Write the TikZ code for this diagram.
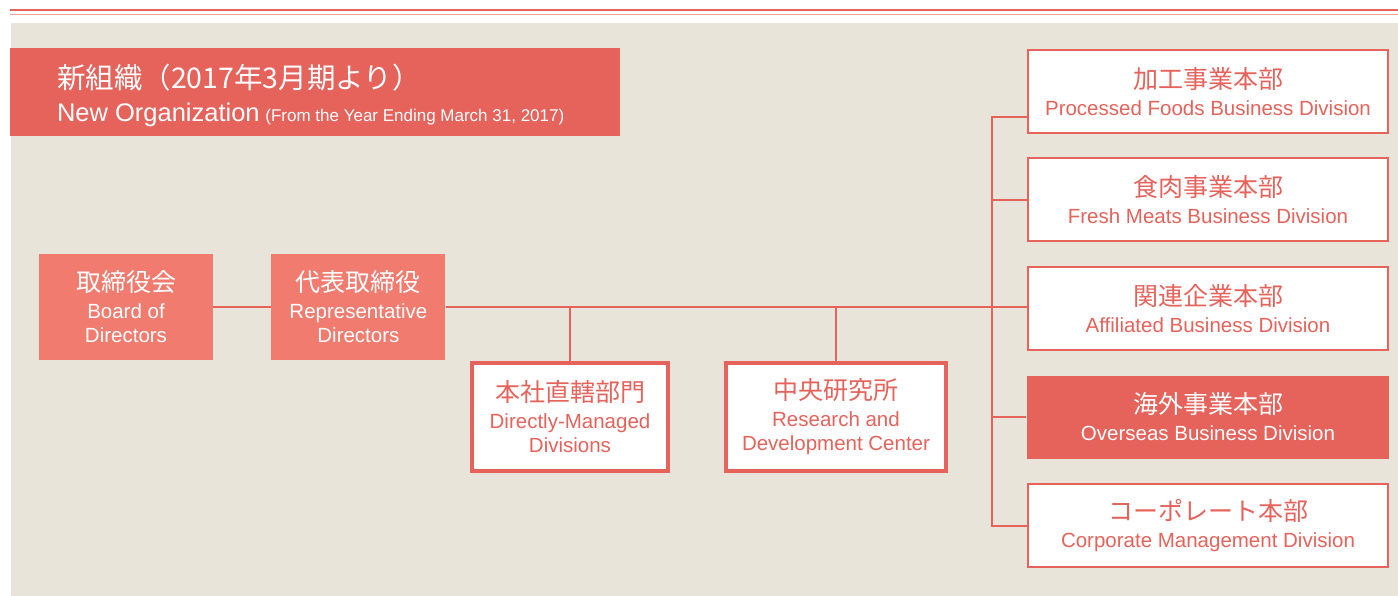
\documentclass[tikz,border=0pt]{standalone}
\usepackage{fontspec}
\setmainfont{Liberation Sans}
\newfontfamily\jp{Noto Sans CJK JP}
\usetikzlibrary{positioning}
\definecolor{rosso}{RGB}{230,99,92}
\definecolor{salmone}{RGB}{241,123,110}
\definecolor{sabbia}{RGB}{232,228,218}
\definecolor{rosa}{RGB}{240,160,155}
\newcommand{\jpl}[1]{{\jp\fontsize{25}{24}\selectfont #1}}

\begin{document}
\begin{tikzpicture}[
    x=1pt, y=-1pt,
    font=\fontsize{20.5}{24}\selectfont,
    node distance=23.5pt,
    txt/.style={
        align=center,
        inner sep=0pt
    },
    titolo/.style={
        fill=rosso,
        minimum width=610pt,
        minimum height=88pt
    },
    vertice/.style={txt, fill=salmone, text=white, minimum width=174pt, minimum height=106pt},
    reparto/.style={txt, fill=white, draw=rosso, line width=4pt, text=rosso, minimum height=108pt},
    divisione/.style={txt, fill=white, draw=rosso, line width=2pt, text=rosso, minimum width=360pt, minimum height=83pt},
    divisione_hl/.style={divisione, fill=rosso, text=white, draw=none, minimum width=362pt},
    linea/.style={draw=rosso, line width=2pt}
]
\useasboundingbox (0,0) rectangle (1398,596);

% Sfondo e filetti
\fill[sabbia] (11,23) rectangle (1398,596);
\draw[rosso, line width=2pt] (10,10.5) -- (1398,10.5);
\draw[rosa, line width=1.5pt] (10,14.5) -- (1398,14.5);

% Titolo
\node[titolo] (tit) at (315,92) {};
\node[txt, align=left, text=white, anchor=west] (tit_txt) at ([xshift=47pt,yshift=-3.5pt]tit.west)
    {{\jp\fontsize{28.5}{30}\selectfont 新組織（2017年3月期より）}\\[9pt]{\fontsize{25.5}{28}\selectfont New Organization} {\fontsize{17}{18}\selectfont (From the Year Ending March 31, 2017)}};

% Vertici
\node[vertice] (cda) at (126,307) {\jpl{取締役会}\\[3pt] Board of\\ Directors};
\node[vertice, right=58pt of cda] (rap) {\jpl{代表取締役}\\[3pt] Representative\\ Directors};

% Reparti
\node[reparto, minimum width=196pt] (dir) at (570,417) {\jpl{本社直轄部門}\\[3pt] Directly-Managed\\ Divisions};
\node[reparto, minimum width=220pt, right=54pt of dir] (ric) {\jpl{中央研究所}\\[3pt] Research and\\ Development Center};

% Divisioni
\node[divisione] (pf) at (1208,91.5) {\jpl{加工事業本部}\\[3pt] Processed Foods Business Division};
\node[divisione, below=of pf] (fm) {\jpl{食肉事業本部}\\[3pt] Fresh Meats Business Division};
\node[divisione, below=of fm] (af) {\jpl{関連企業本部}\\[3pt] Affiliated Business Division};
\node[divisione_hl, below=of af] (ov) {\jpl{海外事業本部}\\[3pt] Overseas Business Division};
\node[divisione, below=of ov] (cm) {\jpl{コーポレート本部}\\[3pt] Corporate Management Division};

% Collegamenti
\coordinate (sp) at (992,117);
\draw[linea] (cda) -- (rap);
\draw[linea] (rap.east) -- (rap.east -| af.west);
\draw[linea] (dir.north) -- (dir.north |- rap.east);
\draw[linea] (ric.north) -- (ric.north |- rap.east);
\draw[linea] (sp -| pf.west) -- (sp) |- (cm.west);
\foreach \d in {fm,ov}
    \draw[linea] (sp |- \d.west) -- (\d.west);

\end{tikzpicture}
\end{document}
